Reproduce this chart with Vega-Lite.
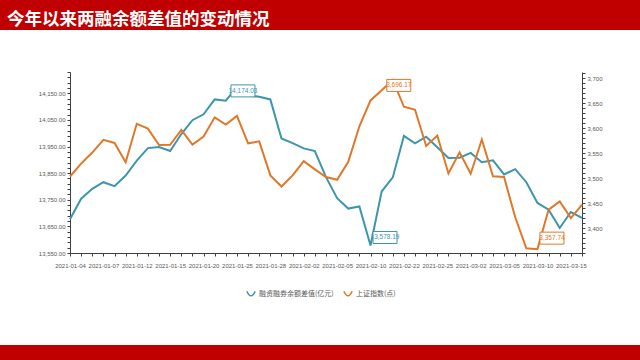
{
  "$schema": "https://vega.github.io/schema/vega-lite/v6.json",
  "padding": 0,
  "spacing": 0,
  "background": "white",
  "config": {
    "font": "Liberation Sans",
    "axis": {"labelColor": "#595959", "labelFontSize": 6, "domainColor": "#404040", "tickColor": "#404040", "tickSize": 3, "grid": false, "title": null},
    "legend": {"labelColor": "#595959", "labelFont": "Noto Sans CJK SC", "labelFontSize": 7}
  },
  "datasets": {
    "d": [
      {"date": "2021-01-04", "margin": 13677, "sh": 3502.96},
      {"date": "2021-01-05", "margin": 13754, "sh": 3528.68},
      {"date": "2021-01-06", "margin": 13791, "sh": 3550.88},
      {"date": "2021-01-07", "margin": 13816, "sh": 3576.20},
      {"date": "2021-01-08", "margin": 13801, "sh": 3570.11},
      {"date": "2021-01-11", "margin": 13841, "sh": 3531.50},
      {"date": "2021-01-12", "margin": 13897, "sh": 3608.34},
      {"date": "2021-01-13", "margin": 13944, "sh": 3598.65},
      {"date": "2021-01-14", "margin": 13948, "sh": 3565.90},
      {"date": "2021-01-15", "margin": 13933, "sh": 3566.38},
      {"date": "2021-01-18", "margin": 13997, "sh": 3596.22},
      {"date": "2021-01-19", "margin": 14049, "sh": 3566.96},
      {"date": "2021-01-20", "margin": 14071, "sh": 3583.09},
      {"date": "2021-01-21", "margin": 14127, "sh": 3621.26},
      {"date": "2021-01-22", "margin": 14122, "sh": 3606.75},
      {"date": "2021-01-25", "margin": 14174.03, "sh": 3624.24},
      {"date": "2021-01-26", "margin": 14142, "sh": 3569.43},
      {"date": "2021-01-27", "margin": 14137, "sh": 3573.34},
      {"date": "2021-01-28", "margin": 14127, "sh": 3505.18},
      {"date": "2021-01-29", "margin": 13980, "sh": 3483.07},
      {"date": "2021-02-01", "margin": 13963, "sh": 3505.28},
      {"date": "2021-02-02", "margin": 13943, "sh": 3533.68},
      {"date": "2021-02-03", "margin": 13933, "sh": 3517.31},
      {"date": "2021-02-04", "margin": 13835, "sh": 3501.86},
      {"date": "2021-02-05", "margin": 13756, "sh": 3496.33},
      {"date": "2021-02-08", "margin": 13717, "sh": 3532.44},
      {"date": "2021-02-09", "margin": 13725, "sh": 3603.49},
      {"date": "2021-02-10", "margin": 13578.19, "sh": 3655.09},
      {"date": "2021-02-18", "margin": 13781, "sh": 3675.36},
      {"date": "2021-02-19", "margin": 13834, "sh": 3696.17},
      {"date": "2021-02-22", "margin": 13990, "sh": 3642.44},
      {"date": "2021-02-23", "margin": 13962, "sh": 3636.36},
      {"date": "2021-02-24", "margin": 13987, "sh": 3564.08},
      {"date": "2021-02-25", "margin": 13947, "sh": 3585.05},
      {"date": "2021-02-26", "margin": 13907, "sh": 3509.08},
      {"date": "2021-03-01", "margin": 13908, "sh": 3551.40},
      {"date": "2021-03-02", "margin": 13926, "sh": 3508.59},
      {"date": "2021-03-03", "margin": 13891, "sh": 3576.90},
      {"date": "2021-03-04", "margin": 13898, "sh": 3503.49},
      {"date": "2021-03-05", "margin": 13845, "sh": 3501.99},
      {"date": "2021-03-08", "margin": 13865, "sh": 3421.41},
      {"date": "2021-03-09", "margin": 13816, "sh": 3359.29},
      {"date": "2021-03-10", "margin": 13738, "sh": 3357.74},
      {"date": "2021-03-11", "margin": 13713, "sh": 3436.83},
      {"date": "2021-03-12", "margin": 13644, "sh": 3453.08},
      {"date": "2021-03-15", "margin": 13704, "sh": 3419.95},
      {"date": "2021-03-16", "margin": 13682, "sh": 3446.73}
    ]
  },
  "vconcat": [
    {
      "width": 640,
      "height": 30,
      "view": {"fill": "#C00000", "stroke": null},
      "title": {"text": "今年以来两融余额差值的变动情况", "anchor": "start", "orient": "top", "offset": -24, "dy": 18, "baseline": "alphabetic", "dx": 7, "font": "Noto Sans CJK SC", "fontSize": 17.5, "fontWeight": "bold", "color": "white"},
      "data": {"values": [{"t": ""}]},
      "mark": {"type": "text"},
      "encoding": {"text": {"field": "t"}}
    },
    {
      "width": 640,
      "height": 315,
      "view": {"stroke": null},
      "data": {"name": "d"},
      "encoding": {
        "x": {
          "field": "date", "type": "ordinal",
          "scale": {"type": "point", "padding": 0, "range": [70, 582]},
          "axis": {
            "offset": -92,
            "labelAngle": 0, "labelOverlap": false, "labelPadding": 6,
            "labelExpr": "indexof(['2021-01-04','2021-01-07','2021-01-12','2021-01-15','2021-01-20','2021-01-25','2021-01-28','2021-02-02','2021-02-05','2021-02-10','2021-02-22','2021-02-25','2021-03-02','2021-03-05','2021-03-10','2021-03-15'], datum.value) >= 0 ? datum.value : ''"
          }
        }
      },
      "layer": [
        {
          "encoding": {
            "y": {
              "field": "margin", "type": "quantitative",
              "scale": {"domain": [13550, 14230], "nice": false, "zero": false, "range": [223, 42]},
              "axis": {
                "orient": "left", "offset": -70,
                "values": [13550,13570,13590,13610,13630,13650,13670,13690,13710,13730,13750,13770,13790,13810,13830,13850,13870,13890,13910,13930,13950,13970,13990,14010,14030,14050,14070,14090,14110,14130,14150,14170,14190,14210,14230],
                "labelExpr": "(datum.value - 13550) % 100 == 0 ? format(datum.value, ',.2f') : ''"
              }
            }
          },
          "layer": [
            {
              "mark": {"type": "line", "strokeWidth": 2},
              "encoding": {
                "color": {
                  "datum": "融资融券余额差值(亿元)", "type": "nominal",
                  "scale": {"domain": ["融资融券余额差值(亿元)", "上证指数(点)"], "range": ["#3D96AB", "#E0782A"]},
                  "legend": {"orient": "none", "legendX": 246, "legendY": 289, "direction": "horizontal", "title": null, "symbolType": "M-1,-0.7 Q0,1.5 1,-0.7", "symbolSize": 70, "symbolStrokeWidth": 1.5, "columnPadding": 6, "labelOffset": 3}
                }
              }
            },
            {
              "transform": [{"filter": "datum.date == '2021-01-25'"}],
              "mark": {"type": "point", "shape": "M-2,-1H2V1H-2Z", "size": 144, "filled": true, "fill": "white", "stroke": "#3D96AB", "strokeWidth": 1, "opacity": 1, "xOffset": 6, "yOffset": 4}
            },
            {
              "transform": [{"filter": "datum.date == '2021-01-25'"}],
              "mark": {"type": "text", "fontSize": 6.5, "color": "#3D96AB", "dx": 6, "dy": 4},
              "encoding": {"text": {"field": "margin", "format": ",.2f"}}
            },
            {
              "transform": [{"filter": "datum.date == '2021-02-10'"}],
              "mark": {"type": "point", "shape": "M-2,-1H2V1H-2Z", "size": 144, "filled": true, "fill": "white", "stroke": "#3D96AB", "strokeWidth": 1, "opacity": 1, "xOffset": 14.5, "yOffset": -8}
            },
            {
              "transform": [{"filter": "datum.date == '2021-02-10'"}],
              "mark": {"type": "text", "fontSize": 6.5, "color": "#3D96AB", "dx": 14.5, "dy": -8},
              "encoding": {"text": {"field": "margin", "format": ",.2f"}}
            }
          ]
        },
        {
          "encoding": {
            "y": {
              "field": "sh", "type": "quantitative",
              "scale": {"domain": [3350, 3712], "nice": false, "zero": false, "range": [223, 42]},
              "axis": {
                "orient": "right", "offset": -58,
                "values": [3350,3360,3370,3380,3390,3400,3410,3420,3430,3440,3450,3460,3470,3480,3490,3500,3510,3520,3530,3540,3550,3560,3570,3580,3590,3600,3610,3620,3630,3640,3650,3660,3670,3680,3690,3700,3710],
                "labelExpr": "(datum.value % 50 == 0 && datum.value >= 3400) ? format(datum.value, ',d') : ''"
              }
            }
          },
          "layer": [
            {
              "mark": {"type": "line", "strokeWidth": 2},
              "encoding": {"color": {"datum": "上证指数(点)", "type": "nominal"}}
            },
            {
              "transform": [{"filter": "datum.date == '2021-02-19'"}],
              "mark": {"type": "point", "shape": "M-2,-1H2V1H-2Z", "size": 144, "filled": true, "fill": "white", "stroke": "#E0782A", "strokeWidth": 1, "opacity": 1, "xOffset": 6, "yOffset": 5.5}
            },
            {
              "transform": [{"filter": "datum.date == '2021-02-19'"}],
              "mark": {"type": "text", "fontSize": 6.5, "color": "#E0782A", "dx": 6, "dy": 5.5},
              "encoding": {"text": {"field": "sh", "format": ",.2f"}}
            },
            {
              "transform": [{"filter": "datum.date == '2021-03-10'"}],
              "mark": {"type": "point", "shape": "M-2,-1H2V1H-2Z", "size": 144, "filled": true, "fill": "white", "stroke": "#E0782A", "strokeWidth": 1, "opacity": 1, "xOffset": 14.5, "yOffset": -11}
            },
            {
              "transform": [{"filter": "datum.date == '2021-03-10'"}],
              "mark": {"type": "text", "fontSize": 6.5, "color": "#E0782A", "dx": 14.5, "dy": -11},
              "encoding": {"text": {"field": "sh", "format": ",.2f"}}
            }
          ]
        }
      ],
      "resolve": {"scale": {"y": "independent"}}
    },
    {
      "width": 640,
      "height": 15,
      "view": {"fill": "#C00000", "stroke": null},
      "data": {"values": [{"t": ""}]},
      "mark": {"type": "text"},
      "encoding": {"text": {"field": "t"}}
    }
  ]
}
